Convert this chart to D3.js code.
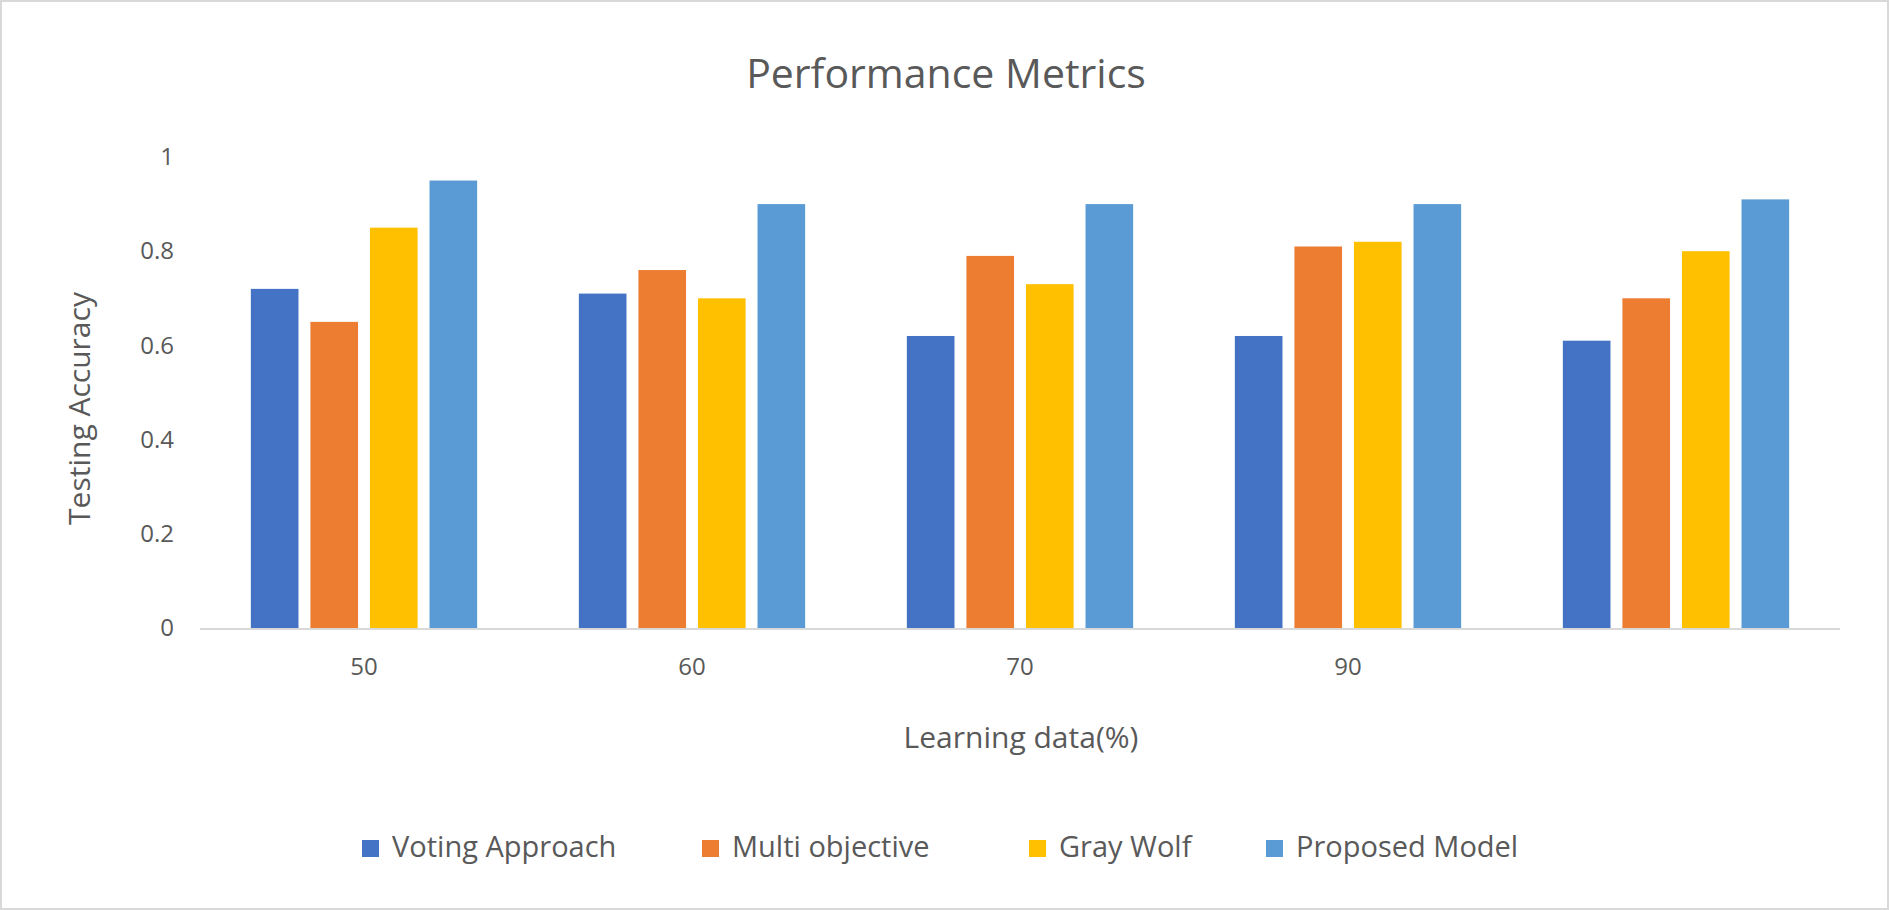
<!DOCTYPE html>
<html><head><meta charset="utf-8">
<script src="https://cdn.jsdelivr.net/npm/d3@7"></script>
<style>body{margin:0;background:#fff;}text{font-family:"Open Sans","Noto Sans",sans-serif;fill:#595959;}</style>
</head><body><svg id="c" width="1889" height="910"></svg>
<script>
const categories = ["50","60","70","90",""];
const seriesNames = ["Voting Approach","Multi objective","Gray Wolf","Proposed Model"];
const colors = ["#4472C4","#ED7D31","#FFC000","#5B9BD5"];
const voting = [0.72,0.71,0.62,0.62,0.61];
const multi = [0.65,0.76,0.79,0.81,0.70];
const gray = [0.85,0.70,0.73,0.82,0.80];
const proposed = [0.95,0.90,0.90,0.90,0.91];
const yTicks = [0,0.2,0.4,0.6,0.8,1];
const series = [voting,multi,gray,proposed];

const svg = d3.select("#c");
svg.append("rect").attr("x",1).attr("y",1).attr("width",1887).attr("height",908).attr("fill","#fff").attr("stroke","#d9d9d9").attr("stroke-width",2);
const L=200,R=1840,T=157,B=628;
const x0=d3.scaleBand().domain(categories.map((c,i)=>i)).range([L,R]).paddingInner(0.31).paddingOuter(0.155);
const x1=d3.scaleBand().domain(d3.range(4)).range([0,x0.bandwidth()]).paddingInner(0.2);
const y=d3.scaleLinear().domain([0,1]).range([B,T]);

svg.append("text").attr("x",946).attr("y",88).attr("text-anchor","middle").attr("font-size",41).text("Performance Metrics");

const ya=svg.append("g").attr("transform",`translate(${L},0)`).call(d3.axisLeft(y).tickValues(yTicks).tickFormat(d=>d3.format("")(d)).tickSize(0).tickPadding(26));
ya.select(".domain").remove();
ya.selectAll("text").attr("font-size",24).style("font-family","'Open Sans','Noto Sans',sans-serif").attr("fill","#595959");

categories.forEach((c,i)=>{
  series.forEach((s,j)=>{
    svg.append("rect").attr("x",x0(i)+x1(j)).attr("width",x1.bandwidth()).attr("y",y(s[i])).attr("height",B-y(s[i])).attr("fill",colors[j]);
  });
});
svg.append("line").attr("x1",L).attr("x2",R).attr("y1",B+1).attr("y2",B+1).attr("stroke","#d9d9d9").attr("stroke-width",2);
const xa=svg.append("g").attr("transform",`translate(0,${B})`).call(d3.axisBottom(x0).tickFormat(i=>categories[i]).tickSize(0).tickPadding(30));
xa.select(".domain").remove();
xa.selectAll("text").attr("font-size",24).style("font-family","'Open Sans','Noto Sans',sans-serif").attr("fill","#595959");
// shift labels to the Multi objective/Gray Wolf boundary? Excel centres at group center
svg.append("text").attr("x",1021).attr("y",748).attr("text-anchor","middle").attr("font-size",30).text("Learning data(%)");
svg.append("text").attr("transform",`translate(90,${(T+B)/2+16}) rotate(-90)`).attr("text-anchor","middle").attr("font-size",30).text("Testing Accuracy");

const lx=[362,702,1029,1266];
seriesNames.forEach((n,j)=>{
  svg.append("rect").attr("x",lx[j]).attr("y",840).attr("width",17).attr("height",17).attr("fill",colors[j]);
  svg.append("text").attr("x",lx[j]+30).attr("y",857).attr("font-size",29).text(n);
});
</script></body></html>
